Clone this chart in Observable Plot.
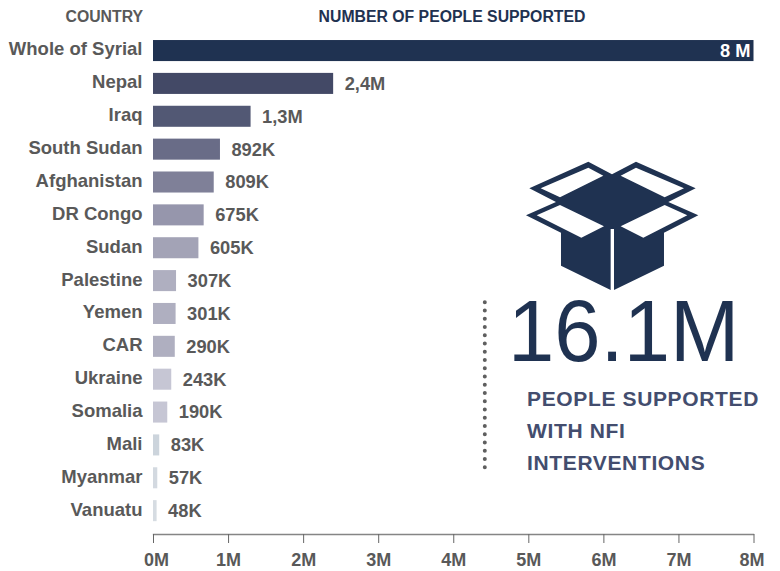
<!DOCTYPE html>
<html>
<head>
<meta charset="utf-8">
<script src="https://cdn.jsdelivr.net/npm/d3@7"></script>
<script src="https://cdn.jsdelivr.net/npm/@observablehq/plot@0.6"></script>
<style>
  html, body { margin: 0; padding: 0; background: #fff; }
  #chart { position: relative; width: 780px; height: 571px; overflow: hidden; }
  #chart svg { position: absolute; left: 0; top: 0; }
  #chart svg, #chart svg text { font-family: "Liberation Sans", Arial, sans-serif; }
</style>
</head>
<body>
<div id="chart"></div>
<script>
const countries = ["Whole of Syrial", "Nepal", "Iraq", "South Sudan", "Afghanistan", "DR Congo", "Sudan", "Palestine", "Yemen", "CAR", "Ukraine", "Somalia", "Mali", "Myanmar", "Vanuatu"];
const peopleSupported = [8000000, 2400000, 1300000, 892000, 809000, 675000, 605000, 307000, 301000, 290000, 243000, 190000, 83000, 57000, 48000];
const valueLabels = ["8 M", "2,4M", "1,3M", "892K", "809K", "675K", "605K", "307K", "301K", "290K", "243K", "190K", "83K", "57K", "48K"];
const barShades = ["#1f3251", "#434966", "#525874", "#696c87", "#7f8098", "#9696ac", "#a3a3b6", "#afafc0", "#afafc0", "#afafc0", "#c6c6d4", "#c6c6d4", "#ccd4dc", "#d3d9e0", "#d6dce2"];
const axisTicks = [0, 1, 2, 3, 4, 5, 6, 7, 8].map(m => m * 1e6);

const rows = countries.map((country, i) => ({country, value: peopleSupported[i], label: valueLabels[i]}));
const GREY = "#595959", NAVY = "#1f3251", SLATE = "#434d6e";

// Axis labels sit on the frame's bottom edge; the end labels are nudged inward
const tickLabels = (ticks, dx) => Plot.text(ticks, {
  x: d => d, text: d => d / 1e6 + "M", frameAnchor: "bottom", dy: 25.5, dx,
  fill: GREY, fontSize: 18, fontWeight: "bold", lineAnchor: "middle"
});

const plot = Plot.plot({
  width: 780,
  height: 571,
  marginLeft: 153,
  marginRight: 27,
  marginTop: 28,
  marginBottom: 37,
  style: {background: "transparent"},
  x: {domain: [0, 8e6], range: [153, 753.5]},
  y: {domain: countries, range: [28.2, 533], padding: 0.36, align: 0.5, round: false},
  color: {type: "ordinal", domain: countries, range: barShades},
  marks: [
    Plot.barX(rows, {x: "value", y: "country", fill: "country"}),
    Plot.text(rows.slice(1), {x: "value", y: "country", text: "label", textAnchor: "start", dx: 11, dy: 0, fill: GREY, fontSize: 18.3, fontWeight: "bold"}),
    Plot.text(rows.slice(0, 1), {x: "value", y: "country", text: "label", textAnchor: "end", dx: -3.5, dy: 0, fill: "#fff", fontSize: 18.3, fontWeight: "bold"}),
    Plot.axisY({tickSize: 0, tickPadding: 11, dy: -1.5, label: null, fontSize: 18.5, fontWeight: "bold", fill: GREY, anchor: "left"}),
    Plot.frame({anchor: "bottom", stroke: "#858585", strokeWidth: 1.3}),
    Plot.axisX({ticks: axisTicks, tickFormat: () => "", tickSize: 9, label: null, stroke: "#666", anchor: "bottom"}),
    tickLabels(axisTicks.slice(0, 1), 3),
    tickLabels(axisTicks.slice(1, 8), 0),
    tickLabels(axisTicks.slice(8), -2)
  ]
});

const host = document.getElementById("chart");
host.appendChild(plot);

// Side panel: open-box glyph, headline total, dotted divider and table headers
const ns = "http://www.w3.org/2000/svg";
const panel = d3.select(host).append(() => document.createElementNS(ns, "svg"))
  .attr("width", 780).attr("height", 571);

const addText = (str, x, y, size, fill, weight, anchor = "start", spacing = 0) =>
  panel.append("text").text(str)
    .attr("x", x).attr("y", y)
    .attr("font-size", size).attr("font-weight", weight)
    .attr("fill", fill).attr("text-anchor", anchor)
    .attr("letter-spacing", spacing);

addText("COUNTRY", 143, 22, 15.8, GREY, "bold", "end");
addText("NUMBER OF PEOPLE SUPPORTED", 452, 22, 15.8, NAVY, "bold", "middle");
addText("16.1M", 0, 0, 87, NAVY, "normal").attr("transform", "translate(508,360.5) scale(0.957,1)");
addText("PEOPLE SUPPORTED", 527, 406, 21, SLATE, "bold", "start", 0.64);
addText("WITH NFI", 527, 438, 21, SLATE, "bold", "start", 0.64);
addText("INTERVENTIONS", 527, 469.5, 21, SLATE, "bold", "start", 0.64);

panel.append("line")
  .attr("x1", 484.8).attr("x2", 484.8).attr("y1", 302.3).attr("y2", 468.5)
  .attr("stroke", "#5f5f5f").attr("stroke-width", 4)
  .attr("stroke-linecap", "round").attr("stroke-dasharray", "0 8.25");

const box = panel.append("g").attr("transform", "translate(520,155) scale(0.3333)");
box.append("path").attr("fill", NAVY)
  .attr("d", "M276,58L348,20L527,100L445,141L535,181L432,233V332L282,405H272L123,332V233L18,181L108,141L28,100L205,20Z");
box.append("path").attr("fill", "#fff")
  .attr("d", "M62,100L205,38L250,62L120,127Z M302,62L348,38L492,100L434,127Z M50,181L120,150L252,214L184,248Z M302,214L434,150L502,181L370,248Z M272,222H282V405H272Z");
</script>
</body>
</html>
